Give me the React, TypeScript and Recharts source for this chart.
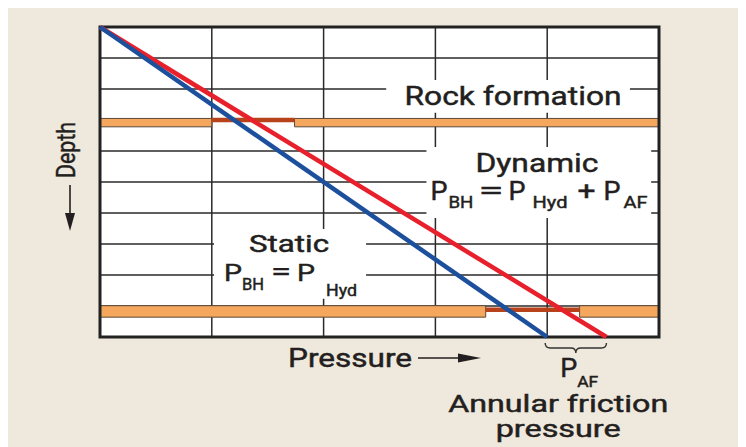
import React from "react"
import {
  LineChart,
  Line,
  XAxis,
  YAxis,
  CartesianGrid,
  ReferenceArea,
  ReferenceLine,
} from "recharts"

// grid ticks (pressure columns, depth rows)
const pressureTicks = [0, 1, 2, 3, 4, 5]
const depthTicks = [0, 1, 2, 3, 4, 5, 6, 7, 8, 9, 10]

// static and dynamic bottom-hole pressure lines
const staticLine = [
  { pressure: 0, depth: 0 },
  { pressure: 4.0, depth: 10 },
]
const dynamicLine = [
  { pressure: 0, depth: 0 },
  { pressure: 4.53, depth: 10 },
]

// rock formation layers: depth band + fractured gap
const layerTop = [2.95, 8.99]
const layerBottom = [3.22, 9.36]
const gapFrom = [1.0, 3.45]
const gapTo = [1.74, 4.29]
const gapDepth = [3.0, 9.12]

// white label boxes [x1, x2, y1, y2]
const rockBox = [2.56, 4.74, 1.71, 2.77]
const dynamicBox = [2.92, 4.93, 3.87, 6.16]
const staticBox = [1.02, 2.38, 6.52, 8.77]

const FONT = "Roboto, 'Liberation Sans', Arial, sans-serif"
const INK = "#231f20"

function T({ x, y, size = 25, w, anchor = "start", children, transform }: any) {
  return (
    <text
      x={x}
      y={y}
      fontSize={size}
      fontFamily={FONT}
      fontWeight={400}
      fill={INK}
      stroke={INK}
      strokeWidth={0.45}
      textAnchor={anchor}
      textLength={w}
      lengthAdjust="spacingAndGlyphs"
      transform={transform}
    >
      {children}
    </text>
  )
}

function RockLabel({ viewBox }: any) {
  const { x, y, width } = viewBox
  return (
    <T x={x + width / 2 + 5} y={y + 25} w={217} anchor="middle">
      Rock formation
    </T>
  )
}

function DynamicLabel({ viewBox }: any) {
  const { x, y } = viewBox
  return (
    <g>
      <T x={x + 110.5} y={y + 25} w={123} anchor="middle">Dynamic</T>
      <T x={x + 4} y={y + 53} w={17}>P</T>
      <T x={x + 22} y={y + 61} w={25} size={17}>BH</T>
      <T x={x + 52} y={y + 52} w={25}>=</T>
      <T x={x + 82} y={y + 53} w={17}>P</T>
      <T x={x + 106} y={y + 61} w={35} size={17}>Hyd</T>
      <T x={x + 151} y={y + 53} w={18}>+</T>
      <T x={x + 177} y={y + 53} w={17}>P</T>
      <T x={x + 197} y={y + 61} w={24} size={17}>AF</T>
    </g>
  )
}

function StaticLabel({ viewBox }: any) {
  const { x, y } = viewBox
  return (
    <g>
      <T x={x + 75} y={y + 23} w={80} size={23} anchor="middle">Static</T>
      <T x={x + 10} y={y + 52} w={18} size={23}>P</T>
      <T x={x + 28} y={y + 61} w={22} size={16}>BH</T>
      <T x={x + 57} y={y + 51} w={20} size={23}>=</T>
      <T x={x + 83} y={y + 52} w={18} size={23}>P</T>
      <T x={x + 112} y={y + 67} w={31} size={16}>Hyd</T>
    </g>
  )
}

function DepthLabel({ viewBox }: any) {
  const { x, y } = viewBox
  const bx = x + 35
  const cy = y + 123
  const ax = x + 30
  return (
    <g>
      <T x={bx} y={cy} w={56} size={26} anchor="middle" transform={`rotate(-90, ${bx}, ${cy})`}>
        Depth
      </T>
      <line x1={ax} y1={y + 158} x2={ax} y2={y + 190} stroke={INK} strokeWidth={1.6} />
      <path d={`M${ax - 5},${y + 186} L${ax + 5},${y + 186} L${ax},${y + 204} Z`} fill={INK} />
    </g>
  )
}

function PressureLabel({ viewBox }: any) {
  const { x, y } = viewBox
  const ly = y + 21
  return (
    <g>
      <T x={x + 188} y={y + 30} w={124}>Pressure</T>
      <line x1={x + 318} y1={ly} x2={x + 362} y2={ly} stroke={INK} strokeWidth={1.6} />
      <path d={`M${x + 358},${ly - 4.5} L${x + 381},${ly} L${x + 358},${ly + 4.5} Z`} fill={INK} />
    </g>
  )
}

function FrictionLabel({ viewBox }: any) {
  const { x, y, width } = viewBox
  const x1 = x - 2
  const x2 = x + width
  const m = (x1 + x2) / 2
  const t = y + 6
  return (
    <g>
      <path
        d={`M${x1},${t} q0,5 5,5 L${m - 5},${t + 5} q5,0 5,5 q0,-5 5,-5 L${x2 - 5},${t + 5} q5,0 5,-5`}
        fill="none"
        stroke="#333"
        strokeWidth={1.4}
      />
      <T x={x + 13} y={y + 40} w={17}>P</T>
      <T x={x + 30} y={y + 50} w={21} size={14}>AF</T>
      <T x={x + 11} y={y + 75} w={220} size={23} anchor="middle">
        Annular friction
      </T>
      <T x={x + 11} y={y + 100} w={125} size={23} anchor="middle">
        pressure
      </T>
    </g>
  )
}

const noTick = () => <g />

export default function App() {
  return (
    <div style={{ width: 738, height: 441, marginTop: -2, background: "#efe8dc" }}>
      <LineChart
        width={738}
        height={441}
        margin={{ top: 21, right: 87, left: 32, bottom: 10 }}
      >
        <CartesianGrid stroke="#2a2a2a" strokeWidth={1.5} fill="#fff" fillOpacity={1} />
        <XAxis
          dataKey="pressure"
          type="number"
          domain={[0, 5]}
          ticks={pressureTicks}
          tick={noTick}
          tickLine={false}
          axisLine={false}
          height={100}
          label={(p: any) => <PressureLabel {...p} />}
        />
        <YAxis
          type="number"
          domain={[0, 10]}
          ticks={depthTicks}
          reversed
          tick={noTick}
          tickLine={false}
          axisLine={false}
          width={60}
          label={(p: any) => <DepthLabel {...p} />}
        />

        {/* rock formation layers */}
        {layerTop.map((top, i) => (
          <ReferenceArea
            key={`a${i}`}
            x1={0}
            x2={gapFrom[i]}
            y1={top}
            y2={layerBottom[i]}
            fill="#f5a75e"
            fillOpacity={1}
            stroke="#5b4a3a"
            strokeWidth={1}
          />
        ))}
        {layerTop.map((top, i) => (
          <ReferenceArea
            key={`b${i}`}
            x1={gapTo[i]}
            x2={5}
            y1={top}
            y2={layerBottom[i]}
            fill="#f5a75e"
            fillOpacity={1}
            stroke="#5b4a3a"
            strokeWidth={1}
          />
        ))}
        {gapDepth.map((d, i) => (
          <ReferenceLine
            key={`g${i}`}
            segment={[
              { x: gapFrom[i], y: d },
              { x: gapTo[i], y: d },
            ]}
            stroke="#b8431a"
            strokeWidth={4.5}
          />
        ))}

        {/* label boxes */}
        <ReferenceArea
          x1={rockBox[0]}
          x2={rockBox[1]}
          y1={rockBox[2]}
          y2={rockBox[3]}
          fill="#fff"
          fillOpacity={1}
          stroke="none"
          label={(p: any) => <RockLabel {...p} />}
        />
        <ReferenceArea
          x1={dynamicBox[0]}
          x2={dynamicBox[1]}
          y1={dynamicBox[2]}
          y2={dynamicBox[3]}
          fill="#fff"
          fillOpacity={1}
          stroke="none"
          label={(p: any) => <DynamicLabel {...p} />}
        />
        <ReferenceArea
          x1={staticBox[0]}
          x2={staticBox[1]}
          y1={staticBox[2]}
          y2={staticBox[3]}
          fill="#fff"
          fillOpacity={1}
          stroke="none"
          label={(p: any) => <StaticLabel {...p} />}
        />

        {/* annular friction brace between the two line ends */}
        <ReferenceLine
          segment={[
            { x: staticLine[1].pressure, y: 10 },
            { x: dynamicLine[1].pressure, y: 10 },
          ]}
          stroke="none"
          label={(p: any) => <FrictionLabel {...p} />}
        />

        <Line
          data={dynamicLine}
          dataKey="depth"
          stroke="#e8202c"
          strokeWidth={4.5}
          dot={false}
          activeDot={false}
          isAnimationActive={false}
        />
        <Line
          data={staticLine}
          dataKey="depth"
          stroke="#1c4f9c"
          strokeWidth={4.5}
          dot={false}
          activeDot={false}
          isAnimationActive={false}
        />

        {/* frame */}
        <ReferenceArea x1={0} x2={5} y1={0} y2={10} fill="none" stroke="#222" strokeWidth={3} />
      </LineChart>
    </div>
  )
}
